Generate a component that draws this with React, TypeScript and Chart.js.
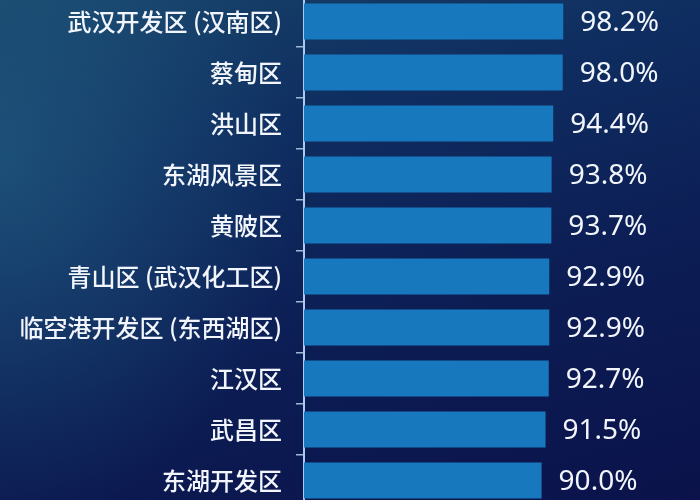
import { useEffect, useRef } from "react"
import { Chart, registerables } from "chart.js"

Chart.register(...registerables)

const districts = [
  "武汉开发区 (汉南区)",
  "蔡甸区",
  "洪山区",
  "东湖风景区",
  "黄陂区",
  "青山区 (武汉化工区)",
  "临空港开发区 (东西湖区)",
  "江汉区",
  "武昌区",
  "东湖开发区",
]
const rates = [98.2, 98.0, 94.4, 93.8, 93.7, 92.9, 92.9, 92.7, 91.5, 90.0]

// draws the percentage to the right of each bar
const valueLabels = {
  id: "valueLabels",
  afterDatasetsDraw(chart: Chart) {
    const ctx = chart.ctx
    const meta = chart.getDatasetMeta(0)
    ctx.save()
    ctx.fillStyle = "#f2f6fc"
    ctx.font = '28px "Noto Sans", sans-serif'
    ctx.textAlign = "left"
    ctx.textBaseline = "middle"
    meta.data.forEach((bar: any, i: number) => {
      ctx.fillText(rates[i].toFixed(1) + "%", bar.x + 17, bar.y + 2)
    })
    ctx.restore()
  },
}

const App = () => {
  const chartRef = useRef<HTMLCanvasElement | null>(null)
  const chartInstance = useRef<Chart | null>(null)

  useEffect(() => {
    if (!chartRef.current) return
    const ctx = chartRef.current.getContext("2d")
    if (!ctx) return
    if (chartInstance.current) chartInstance.current.destroy()

    chartInstance.current = new Chart(ctx, {
      type: "bar",
      data: {
        labels: districts,
        datasets: [
          {
            data: rates,
            backgroundColor: "#1778be",
            borderWidth: 0,
            categoryPercentage: 1,
            barPercentage: 0.71,
          },
        ],
      },
      options: {
        indexAxis: "y",
        animation: false,
        responsive: true,
        maintainAspectRatio: false,
        layout: { padding: 0 },
        scales: {
          x: {
            display: false,
            min: 0,
            max: 150,
          },
          y: {
            afterFit: (axis: any) => {
              axis.width = 304
              axis.paddingTop = 0
              axis.paddingBottom = 0
            },
            grid: {
              drawOnChartArea: false,
              drawTicks: true,
              tickLength: 8,
              color: "#9fb8d6",
              lineWidth: 1.5,
            },
            border: {
              display: true,
              color: "#a8cbee",
              width: 2,
            },
            ticks: {
              color: "#f2f6fc",
              padding: 14,
              font: { family: '"Noto Sans CJK SC"', size: 24, weight: 500 },
            },
          },
        },
        plugins: {
          legend: { display: false },
          tooltip: { enabled: false },
        },
      },
      plugins: [valueLabels],
    })

    return () => {
      if (chartInstance.current) {
        chartInstance.current.destroy()
        chartInstance.current = null
      }
    }
  }, [])

  return (
    <div
      style={{
        position: "fixed",
        left: 0,
        top: -4,
        width: 700,
        height: 510,
        background:
          "radial-gradient(ellipse 300px 360px at 0px 170px, rgba(38,104,138,0.55), rgba(38,104,138,0) 100%), linear-gradient(165deg, #17436a 0%, #0f2d60 30%, #0c1e55 60%, #0b124a 100%)",
      }}
    >
      <canvas ref={chartRef} />
    </div>
  )
}

export default App
